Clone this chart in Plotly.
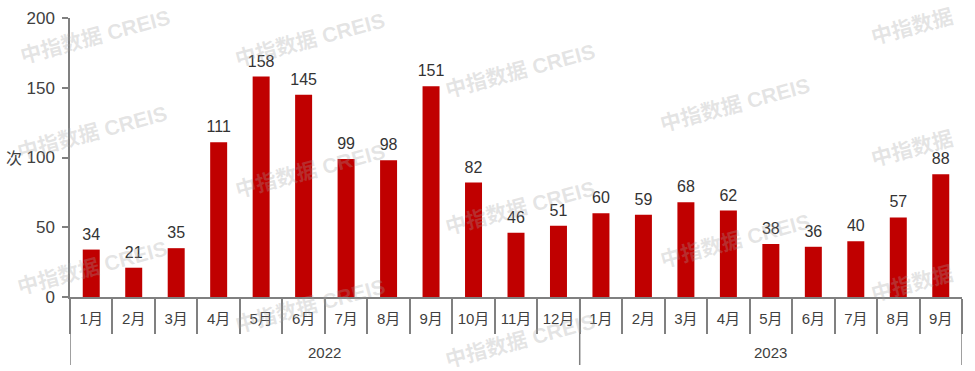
import plotly.graph_objects as go

years = ["2022"] * 12 + ["2023"] * 9
months = ["1月", "2月", "3月", "4月", "5月", "6月", "7月", "8月", "9月", "10月", "11月", "12月",
          "1月", "2月", "3月", "4月", "5月", "6月", "7月", "8月", "9月"]
values = [34, 21, 35, 111, 158, 145, 99, 98, 151, 82, 46, 51,
          60, 59, 68, 62, 38, 36, 40, 57, 88]
y_ticks = [0, 50, 100, 150, 200]
y_unit = "次"
watermark = "中指数据 CREIS"
watermark_short = "中指数据"

FONT = "Arial, 'Liberation Sans', 'Noto Sans CJK SC', sans-serif"
W, H = 975, 371
L, R, T, B = 70, 13, 18, 74
pw, ph = W - L - R, H - T - B
AXIS_COL = "#808080"

n = len(values)
idx = list(range(n))
boundaries = [i - 0.5 for i in range(n + 1)]

# year groups
groups = []
start = 0
for i in range(1, n + 1):
    if i == n or years[i] != years[start]:
        groups.append((years[start], start, i - 1))
        start = i

fig = go.Figure()
fig.add_trace(go.Bar(
    x=idx, y=values,
    marker=dict(color="#C00000", line=dict(width=0)),
    hoverinfo="skip",
))
fig.add_trace(go.Scatter(
    x=idx, y=values,
    mode="markers+text",
    text=[str(v) for v in values],
    textposition="top center",
    textfont=dict(size=16, color="#333333", family=FONT),
    marker=dict(size=8, color="rgba(0,0,0,0)"),
    hoverinfo="skip",
    cliponaxis=False,
))

shapes = []
annotations = []
# group dividers and year labels
div_len = 68 / ph
for k, (yr, a, b) in enumerate(groups):
    if k == 0:
        shapes.append(dict(type="line", xref="x", yref="paper", x0=a - 0.5, x1=a - 0.5,
                           y0=0, y1=-div_len, line=dict(color=AXIS_COL, width=1.5)))
    shapes.append(dict(type="line", xref="x", yref="paper", x0=b + 0.5, x1=b + 0.5,
                       y0=0, y1=-div_len, line=dict(color=AXIS_COL, width=1.5)))
    annotations.append(dict(
        text=yr, xref="x", yref="paper", x=(a + b) / 2, y=-55 / ph,
        xanchor="center", yanchor="middle", showarrow=False,
        font=dict(size=15, color="#404040", family=FONT),
    ))

# watermark positions (pixel centres)
wm_pos = [(95, 36, watermark), (92, 132, watermark), (92, 267, watermark),
          (310, 40, watermark), (310, 170, watermark), (310, 305, watermark),
          (520, 70, watermark), (520, 207, watermark), (520, 340, watermark),
          (735, 105, watermark), (735, 240, watermark),
          (912, 26, watermark_short), (912, 148, watermark_short), (912, 283, watermark_short)]
for px, py, txt in wm_pos:
    annotations.append(dict(
        text=f"<b>{txt}</b>", xref="paper", yref="paper",
        x=(px - L) / pw, y=(H - B - py) / ph, xanchor="center", yanchor="middle",
        showarrow=False, textangle=-15,
        font=dict(size=21, color="rgba(160,160,160,0.28)", family=FONT),
    ))
annotations.append(dict(
    text=y_unit, xref="paper", yref="paper",
    x=(14 - L) / pw, y=(H - B - 158) / ph, xanchor="center", yanchor="middle",
    showarrow=False, font=dict(size=16, color="#404040", family=FONT),
))

fig.update_layout(
    width=W, height=H,
    margin=dict(l=L, r=R, t=T, b=B, pad=0),
    plot_bgcolor="white", paper_bgcolor="white",
    showlegend=False,
    bargap=0.6,
    font=dict(family=FONT, size=15, color="#595959"),
    annotations=annotations,
    shapes=shapes,
    xaxis=dict(
        automargin=False,
        range=[-0.5, n - 0.5], autorange=False,
        tickmode="array", tickvals=idx, ticktext=months,
        ticks="", ticklabelstandoff=7,
        minor=dict(tickmode="array", tickvals=boundaries, ticks="outside",
                   ticklen=35, tickcolor=AXIS_COL, tickwidth=1.5, showgrid=False),
        showline=True, linecolor=AXIS_COL, linewidth=1.5,
        tickfont=dict(size=15, color="#404040", family=FONT),
        showgrid=False, zeroline=False,
    ),
    yaxis=dict(
        automargin=False,
        range=[0, 200], tickvals=y_ticks,
        showline=True, linecolor=AXIS_COL, linewidth=1.5,
        ticks="outside", ticklen=6, tickcolor=AXIS_COL, tickwidth=1.5,
        ticklabelstandoff=4,
        tickfont=dict(size=17, color="#404040", family=FONT),
        showgrid=False, zeroline=False,
    ),
)

fig.write_html("out.html", config={"displayModeBar": False},
               post_script="document.body.style.margin='0';document.body.style.overflow='hidden';")
